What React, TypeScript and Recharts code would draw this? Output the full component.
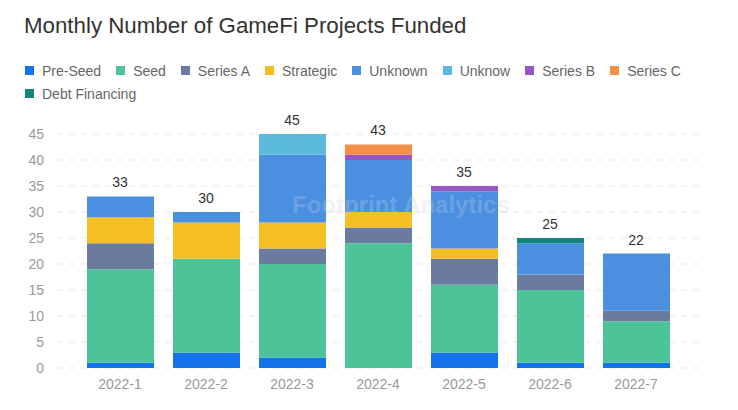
import React from 'react';
import { ComposedChart, Bar, Line, XAxis, YAxis, CartesianGrid, LabelList } from 'recharts';

const months = ['2022-1', '2022-2', '2022-3', '2022-4', '2022-5', '2022-6', '2022-7'];

const preSeed = [1, 3, 2, 0, 3, 1, 1];
const seed = [18, 18, 18, 24, 13, 14, 8];
const seriesA = [5, 0, 3, 3, 5, 3, 2];
const strategic = [5, 7, 5, 3, 2, 0, 0];
const unknown = [4, 2, 13, 10, 11, 6, 11];
const unknow = [0, 0, 4, 0, 0, 0, 0];
const seriesB = [0, 0, 0, 1, 1, 0, 0];
const seriesC = [0, 0, 0, 2, 0, 0, 0];
const debtFinancing = [0, 0, 0, 0, 0, 1, 0];

const yTicks = [0, 5, 10, 15, 20, 25, 30, 35, 40, 45];

const series = [
  { key: 'preSeed', name: 'Pre-Seed', values: preSeed, color: '#1273eb' },
  { key: 'seed', name: 'Seed', values: seed, color: '#4cc497' },
  { key: 'seriesA', name: 'Series A', values: seriesA, color: '#6b7b9f' },
  { key: 'strategic', name: 'Strategic', values: strategic, color: '#f5be23' },
  { key: 'unknown', name: 'Unknown', values: unknown, color: '#4a8fe0' },
  { key: 'unknow', name: 'Unknow', values: unknow, color: '#5bbadc' },
  { key: 'seriesB', name: 'Series B', values: seriesB, color: '#9657c5' },
  { key: 'seriesC', name: 'Series C', values: seriesC, color: '#f38e45' },
  { key: 'debt', name: 'Debt Financing', values: debtFinancing, color: '#13857d' },
];

const data = months.map((m, i) => {
  const row: Record<string, any> = { month: m };
  let total = 0;
  series.forEach(s => {
    row[s.key] = s.values[i];
    total += s.values[i];
  });
  row.total = total;
  return row;
});

const FONT = '"Liberation Sans", Arial, Helvetica, sans-serif';

export default function App() {
  return (
    <div style={{ position: 'absolute', left: 0, top: 0, width: 738, height: 410, background: '#fff', fontFamily: FONT }}>
      <div style={{ position: 'absolute', left: 24, top: 13, fontSize: 22.3, color: '#333', whiteSpace: 'nowrap' }}>
        Monthly Number of GameFi Projects Funded
      </div>

      {/* legend */}
      <div style={{ position: 'absolute', left: 25, top: 61, width: 690, display: 'flex', flexWrap: 'wrap', rowGap: 4 }}>
        {series.map((s, i) => (
          <div key={s.key} style={{ display: 'flex', alignItems: 'center', height: 19, marginRight: 15, width: i === 8 ? 640 : undefined }}>
            <span style={{ display: 'inline-block', width: 9, height: 9, background: s.color, marginRight: 8 }} />
            <span style={{ fontSize: 14, color: '#666' }}>{s.name}</span>
          </div>
        ))}
      </div>

      <ComposedChart
        width={738}
        height={410}
        data={data}
        margin={{ top: 134, right: 35, left: 0, bottom: 12 }}
        style={{ position: 'absolute', left: 0, top: 0 }}
      >
        <CartesianGrid vertical={false} stroke="#e6e6e6" strokeDasharray="6 6" />
        <XAxis
          dataKey="month"
          height={30}
          padding={{ left: 20, right: 24 }}
          axisLine={false}
          tickLine={false}
          tickMargin={5}
          tick={{ fontSize: 14, fill: '#999', fontFamily: FONT }}
        />
        <YAxis
          width={57}
          domain={[0, 45]}
          ticks={yTicks}
          interval={0}
          axisLine={false}
          tickLine={false}
          tickMargin={7}
          tick={{ fontSize: 14, fill: '#999', fontFamily: FONT }}
        />
        {series.map(s => (
          <Bar key={s.key} dataKey={s.key} name={s.name} stackId="a" fill={s.color} barSize={67} isAnimationActive={false} />
        ))}
        <Line dataKey="total" stroke="none" dot={false} activeDot={false} isAnimationActive={false} legendType="none">
          <LabelList dataKey="total" position="top" offset={9} style={{ fontSize: 14, fill: '#333', fontFamily: FONT }} />
        </Line>
      </ComposedChart>

      {/* watermark */}
      <div style={{ position: 'absolute', left: 292, top: 191, fontSize: 24, fontWeight: 700, color: 'rgba(195,208,228,0.3)', whiteSpace: 'nowrap', pointerEvents: 'none' }}>
        Footprint Analytics
      </div>
    </div>
  );
}
